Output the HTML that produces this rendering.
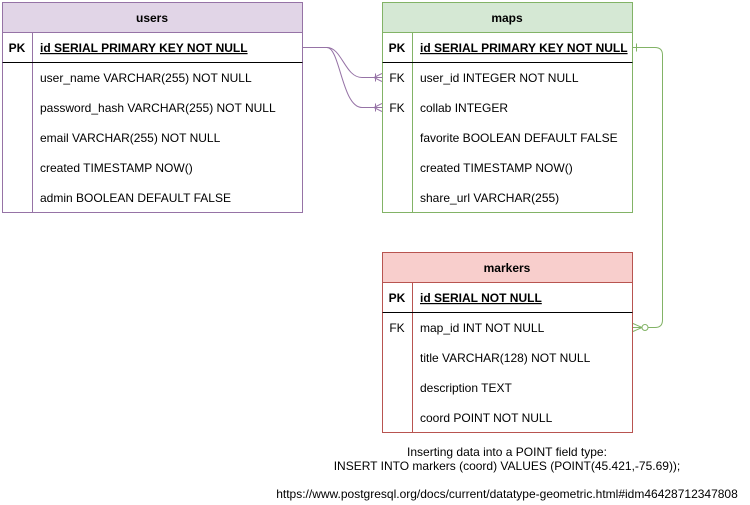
<!DOCTYPE html>
<html><head><style>body{margin:0;background:#fff}svg{display:block}text{font-family:"Liberation Sans",sans-serif;font-size:12px;fill:#000}</style></head><body>
<svg width="750" height="505" viewBox="0 0 750 505">
<!-- users -->
<rect x="2.5" y="2.5" width="300" height="30" fill="#e1d5e7" stroke="#9673a6"/>
<rect x="2.5" y="32.5" width="300" height="180" fill="#fff" stroke="#9673a6"/>
<line x1="32.5" y1="32.5" x2="32.5" y2="212.5" stroke="#9673a6"/>
<line x1="2.5" y1="62.5" x2="302.5" y2="62.5" stroke="#000"/>
<text x="152" y="22" text-anchor="middle" font-weight="bold">users</text>
<text x="17" y="52" text-anchor="middle" font-weight="bold">PK</text>
<text x="40" y="52" font-weight="bold" text-decoration="underline">id SERIAL PRIMARY KEY NOT NULL</text>
<text x="40" y="82">user_name VARCHAR(255) NOT NULL</text>
<text x="40" y="112">password_hash VARCHAR(255) NOT NULL</text>
<text x="40" y="142">email VARCHAR(255) NOT NULL</text>
<text x="40" y="172">created TIMESTAMP NOW()</text>
<text x="40" y="202">admin BOOLEAN DEFAULT FALSE</text>
<!-- maps -->
<rect x="382.5" y="2.5" width="250" height="30" fill="#d5e8d4" stroke="#82b366"/>
<rect x="382.5" y="32.5" width="250" height="180" fill="#fff" stroke="#82b366"/>
<line x1="412.5" y1="32.5" x2="412.5" y2="212.5" stroke="#82b366"/>
<line x1="382.5" y1="62.5" x2="632.5" y2="62.5" stroke="#000"/>
<text x="507" y="22" text-anchor="middle" font-weight="bold">maps</text>
<text x="397" y="52" text-anchor="middle" font-weight="bold">PK</text>
<text x="420" y="52" font-weight="bold" text-decoration="underline">id SERIAL PRIMARY KEY NOT NULL</text>
<text x="397" y="82" text-anchor="middle">FK</text>
<text x="397" y="112" text-anchor="middle">FK</text>
<text x="420" y="82">user_id INTEGER NOT NULL</text>
<text x="420" y="112">collab INTEGER</text>
<text x="420" y="142">favorite BOOLEAN DEFAULT FALSE</text>
<text x="420" y="172">created TIMESTAMP NOW()</text>
<text x="420" y="202">share_url VARCHAR(255)</text>
<!-- markers -->
<rect x="382.5" y="252.5" width="250" height="30" fill="#f8cecc" stroke="#b85450"/>
<rect x="382.5" y="282.5" width="250" height="150" fill="#fff" stroke="#b85450"/>
<line x1="412.5" y1="282.5" x2="412.5" y2="432.5" stroke="#b85450"/>
<line x1="382.5" y1="312.5" x2="632.5" y2="312.5" stroke="#000"/>
<text x="507" y="272" text-anchor="middle" font-weight="bold">markers</text>
<text x="397" y="302" text-anchor="middle" font-weight="bold">PK</text>
<text x="420" y="302" font-weight="bold" text-decoration="underline">id SERIAL NOT NULL</text>
<text x="397" y="332" text-anchor="middle">FK</text>
<text x="420" y="332">map_id INT NOT NULL</text>
<text x="420" y="362">title VARCHAR(128) NOT NULL</text>
<text x="420" y="392">description TEXT</text>
<text x="420" y="422">coord POINT NOT NULL</text>
<!-- connectors users->maps -->
<g fill="none" stroke="#9673a6">
<path d="M302.5 47.5 L327 47.5 C342 47.5 345 77.5 362 77.5 L382.5 77.5"/>
<path d="M302.5 47.5 L327 47.5 C340 47.5 342 107.5 362 107.5 L382.5 107.5"/>
<path d="M374 77.5 L382 73.5 M374 77.5 L382 81.5 M375.5 73.5 L375.5 81.5"/>
<path d="M374 107.5 L382 103.5 M374 107.5 L382 111.5 M375.5 103.5 L375.5 111.5"/>
</g>
<!-- maps->markers -->
<g fill="none" stroke="#82b366">
<path d="M632.5 47.5 L655 47.5 Q662.5 47.5 662.5 55 L662.5 320 Q662.5 327.5 655 327.5 L648 327.5"/>
<path d="M636.5 43.5 L636.5 51.5"/>
<circle cx="645" cy="327.5" r="3"/>
<path d="M642 327.5 L633 323.5 M642 327.5 L633 331.5 M642 327.5 L633 327.5"/>
</g>
<text x="507" y="456" text-anchor="middle">Inserting data into a POINT field type:</text>
<text x="507" y="470" text-anchor="middle">INSERT INTO markers (coord) VALUES (POINT(45.421,-75.69));</text>
<text x="507" y="498" text-anchor="middle">https://www.postgresql.org/docs/current/datatype-geometric.html#idm46428712347808</text>
</svg>
</body></html>
